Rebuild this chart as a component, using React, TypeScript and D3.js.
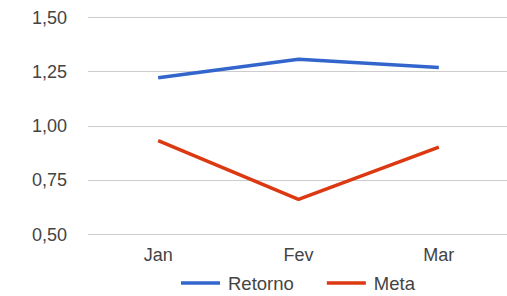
import React, { useEffect, useRef } from 'react';
import * as d3 from 'd3';

const months = ['Jan', 'Fev', 'Mar'];
const retorno = [1.22, 1.305, 1.267];
const meta = [0.93, 0.66, 0.9];
const yTicks = [0.5, 0.75, 1.0, 1.25, 1.5];

const seriesNames = ['Retorno', 'Meta'];
const colors = ['#3366cc', '#dc3912'];

export default function App() {
  const ref = useRef<SVGSVGElement>(null);

  useEffect(() => {
    const width = 507;
    const height = 296;
    const svg = d3.select(ref.current);
    svg.selectAll('*').remove();
    svg.attr('width', width).attr('height', height);

    const font = 'Arial, "Liberation Sans", sans-serif';
    const textColor = '#444444';

    const x = d3.scalePoint<string>().domain(months).range([88, 509]).padding(0.5);
    const y = d3.scaleLinear().domain([0.5, 1.5]).range([234, 17]);

    // grid
    svg.append('g')
      .selectAll('line')
      .data(yTicks)
      .enter()
      .append('line')
      .attr('x1', 88)
      .attr('x2', width)
      .attr('y1', d => Math.round(y(d)) + 0.5)
      .attr('y2', d => Math.round(y(d)) + 0.5)
      .attr('stroke', '#cccccc')
      .attr('stroke-width', 1);

    // y labels
    svg.append('g')
      .selectAll('text')
      .data(yTicks)
      .enter()
      .append('text')
      .attr('x', 67)
      .attr('y', d => y(d) + 6.5)
      .attr('text-anchor', 'end')
      .attr('font-family', font)
      .attr('font-size', 18)
      .attr('fill', textColor)
      .text(d => d.toFixed(2).replace('.', ','));

    // x labels
    svg.append('g')
      .selectAll('text')
      .data(months)
      .enter()
      .append('text')
      .attr('x', d => x(d)!)
      .attr('y', 261)
      .attr('text-anchor', 'middle')
      .attr('font-family', font)
      .attr('font-size', 18)
      .attr('fill', textColor)
      .text(d => d);

    const line = d3.line<number>()
      .x((_, i) => x(months[i])!)
      .y(d => y(d));

    [retorno, meta].forEach((s, i) => {
      svg.append('path')
        .datum(s)
        .attr('d', line)
        .attr('fill', 'none')
        .attr('stroke', colors[i])
        .attr('stroke-width', 3.5)
        .attr('stroke-linejoin', 'round');
    });

    // legend
    const legend = svg.append('g');
    let cx = 0;
    seriesNames.forEach((name, i) => {
      const g = legend.append('g').attr('transform', `translate(${cx},0)`);
      g.append('line')
        .attr('x1', 0)
        .attr('x2', 39)
        .attr('y1', 283)
        .attr('y2', 283)
        .attr('stroke', colors[i])
        .attr('stroke-width', 3.5);
      const t = g.append('text')
        .attr('x', 47)
        .attr('y', 290)
        .attr('font-family', font)
        .attr('font-size', 18.5)
        .attr('fill', textColor)
        .text(name);
      const w = (t.node() as SVGTextElement).getComputedTextLength();
      cx += 47 + w + 33;
    });
    legend.attr('transform', 'translate(181,0)');
  }, []);

  return <svg ref={ref} style={{ position: 'absolute', left: 0, top: 0 }} />;
}
